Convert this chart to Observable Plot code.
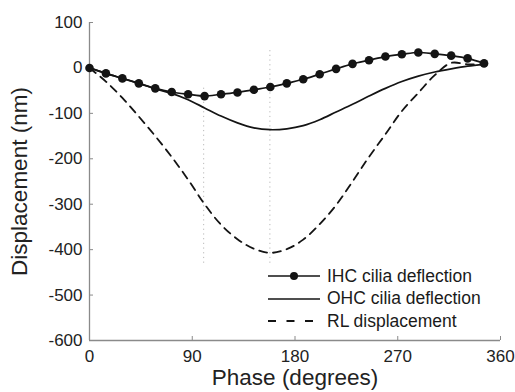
<!DOCTYPE html>
<html>
<head>
<meta charset="utf-8">
<script src="https://cdn.jsdelivr.net/npm/d3@7"></script>
<script src="https://cdn.jsdelivr.net/npm/@observablehq/plot@0.6"></script>
<style>
  html, body { margin: 0; padding: 0; background: #fff; }
  #wrap { position: relative; width: 515px; height: 392px; font-family: "Liberation Sans", Arial, sans-serif; }
  #legend { position: absolute; left: 268px; top: 265px; font-size: 17.5px; color: #1a1a1a; }
  #legend .row { display: flex; align-items: center; height: 22.5px; }
  #legend svg { width: 54px; height: 12px; margin-right: 5px; }
</style>
</head>
<body>
<div id="wrap"><div id="legend"></div></div>
<script>
// Phase samples (degrees), 25 per cycle
const phase = [0, 14.4, 28.8, 43.2, 57.6, 72, 86.4, 100.8, 115.2, 129.6, 144, 158.4, 172.8, 187.2, 201.6, 216, 230.4, 244.8, 259.2, 273.6, 288, 302.4, 316.8, 331.2, 345.6];
// Displacements (nm)
const ihc = [0, -12, -23, -34, -45, -53, -58, -62, -58, -54, -48, -42, -34, -25, -14, -2, 9, 17, 25, 30, 34, 31, 27, 21, 10];
const ohc = [0, -12, -23, -34, -46, -56, -70, -88, -106, -121, -132, -136, -134, -127, -114, -97, -80, -62, -45, -30, -18, -9, -2, 4, 8];
const rl  = [0, -30, -66, -107, -150, -196, -246, -300, -345, -377, -398, -407, -399, -378, -344, -302, -250, -196, -146, -95, -55, -16, 11, 8, 8];
const seriesNames = ["IHC cilia deflection", "OHC cilia deflection", "RL displacement"];
const xTicks = [0, 90, 180, 270, 360];
const yTicks = [100, 0, -100, -200, -300, -400, -500, -600];
// Dotted reference phases (IHC minimum, RL minimum)
const refPhase = [100, 158];
const refTop = [-44, 44];
const refBottom = [-430, -430];

const rows = (ys) => phase.map((p, i) => ({p, v: ys[i]}));
const refs = refPhase.map((p, i) => ({p, y1: refBottom[i], y2: refTop[i]}));
const ink = "#141414";
const axisGray = "#8a8a8a";

const chart = Plot.plot({
  width: 515,
  height: 392,
  marginLeft: 89,
  marginRight: 15,
  marginTop: 22,
  marginBottom: 52,
  style: {fontFamily: "Liberation Sans, Arial, sans-serif", background: "transparent", color: "#222"},
  x: {domain: [0, 360]},
  y: {domain: [-600, 100]},
  marks: [
    Plot.ruleX(refs, {x: "p", y1: "y1", y2: "y2", stroke: "#b8b8b8", strokeWidth: 1, strokeDasharray: "1.2,3.5"}),
    // axis lines
    Plot.ruleX([0], {y1: -600, y2: 100, stroke: axisGray, strokeWidth: 1.3}),
    Plot.ruleY([-600], {x1: 0, x2: 360, stroke: axisGray, strokeWidth: 1.3}),
    // inward ticks
    Plot.axisY({ticks: yTicks, tickSize: 4, dx: 4, tickFormat: () => "", label: null, stroke: axisGray}),
    Plot.axisX({ticks: xTicks, tickSize: 4, dy: -4, tickFormat: () => "", label: null, stroke: axisGray}),
    // tick labels
    Plot.axisY({ticks: yTicks, tickSize: 0, tickPadding: 7, tickFormat: d => String(d), fontSize: 17, label: null}),
    Plot.axisX({ticks: xTicks, tickSize: 0, tickPadding: 9, tickFormat: d => String(d), fontSize: 17, label: null}),
    // axis titles
    Plot.axisY({ticks: yTicks, tickSize: 0, tickFormat: () => "", label: "Displacement (nm)", labelAnchor: "center", labelArrow: false, labelOffset: 78, dy: 8, fontSize: 22.5}),
    Plot.text(["Phase (degrees)"], {frameAnchor: "bottom", dy: 44, lineAnchor: "bottom", fontSize: 22.5, fill: "#222"}),
    // series
    Plot.line(rows(rl), {x: "p", y: "v", stroke: ink, strokeWidth: 1.8, strokeDasharray: "8,6", curve: "catmull-rom"}),
    Plot.line(rows(ohc), {x: "p", y: "v", stroke: ink, strokeWidth: 1.7, curve: "catmull-rom"}),
    Plot.line(rows(ihc), {x: "p", y: "v", stroke: ink, strokeWidth: 1.7, curve: "catmull-rom"}),
    Plot.dot(rows(ihc), {x: "p", y: "v", r: 4.3, fill: ink, stroke: "none"})
  ]
});
const wrap = document.getElementById("wrap");
wrap.insertBefore(chart, wrap.firstChild);

// legend
const samples = [
  `<line x1="0" y1="6" x2="52" y2="6" stroke="${ink}" stroke-width="1.7"/><circle cx="26" cy="6" r="4" fill="${ink}"/>`,
  `<line x1="0" y1="6" x2="52" y2="6" stroke="${ink}" stroke-width="1.7"/>`,
  `<line x1="0" y1="6" x2="46" y2="6" stroke="${ink}" stroke-width="1.8" stroke-dasharray="8,10.5"/>`
];
const legend = document.getElementById("legend");
seriesNames.forEach((name, i) => {
  const row = document.createElement("div");
  row.className = "row";
  row.innerHTML = `<svg viewBox="0 0 54 12">${samples[i]}</svg><span>${name}</span>`;
  legend.appendChild(row);
});
</script>
</body>
</html>
